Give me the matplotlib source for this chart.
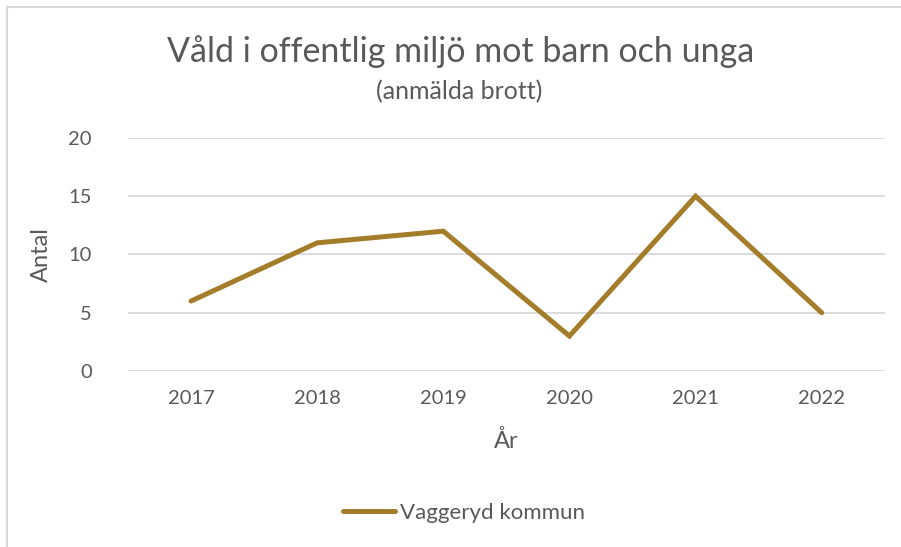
import matplotlib.pyplot as plt
from matplotlib.patches import Rectangle

years = ['2017', '2018', '2019', '2020', '2021', '2022']
antal = [6, 11, 12, 3, 15, 5]
serie = 'Vaggeryd kommun'

plt.rcParams['font.family'] = ['Lato', 'DejaVu Sans']
textfarg = '#595959'
linjefarg = '#A47D2B'

fig = plt.figure(figsize=(9.01, 5.47), dpi=100)
ax = fig.add_axes([0.142, 0.3218, 0.840, 0.4259])

x = range(len(years))
ax.plot(x, antal, color=linjefarg, linewidth=3.6, solid_capstyle='round',
        solid_joinstyle='miter', label=serie)

ax.set_xlim(-0.5, len(years) - 0.5)
ax.set_ylim(0, 20)
ax.set_yticks([0, 5, 10, 15, 20])
ax.set_xticks(list(x))
ax.set_xticklabels(years)
ax.grid(axis='y', color='#D9D9D9', linewidth=1.3)
ax.set_axisbelow(True)
for s in ax.spines.values():
    s.set_visible(False)
ax.tick_params(length=0, labelsize=14.5, colors=textfarg, pad=14)
ax.tick_params(axis='y', pad=26)

ax.set_xlabel('År', fontsize=17, color=textfarg, labelpad=16)
ax.set_ylabel('Antal', fontsize=17, color=textfarg, labelpad=12)

fig.text(0.511, 0.905, 'Våld i offentlig miljö mot barn och unga', ha='center',
         va='center', fontsize=24.5, color=textfarg)
fig.text(0.510, 0.833, '(anmälda brott)', ha='center', va='center',
         fontsize=18, color=textfarg)

leg = fig.legend(loc='center', bbox_to_anchor=(0.515, 0.062), frameon=False,
                 fontsize=16, handlelength=2.35, handletextpad=0.2)
for t in leg.get_texts():
    t.set_color(textfarg)

# ram (endast vänster och överkant syns)
fig.patches.append(Rectangle((6.5 / 901, -0.1), 1.1, 1.1 - 6.5 / 547,
                             transform=fig.transFigure, fill=False,
                             edgecolor='#D9D9D9', linewidth=1.5))

fig.savefig('out.png', dpi=100)
